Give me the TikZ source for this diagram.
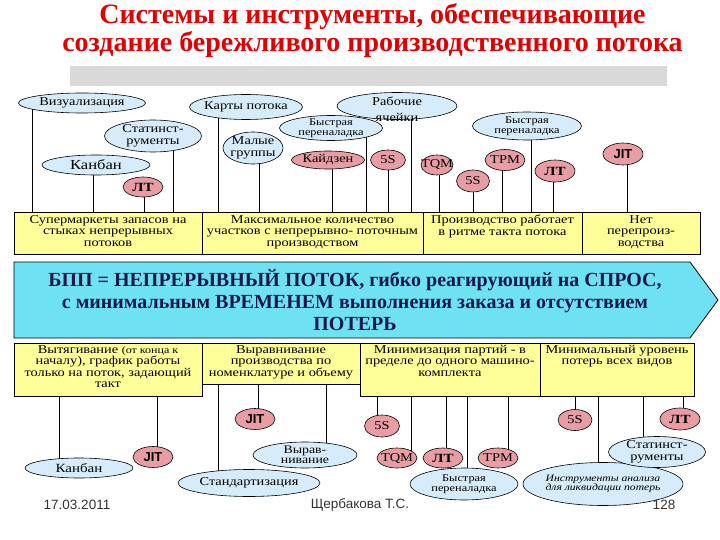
\documentclass[tikz,border=0pt]{standalone}
\usepackage{fontspec}
\setmainfont{Liberation Serif}[FakeStretch=1.2]
\newfontfamily\ttlfont{Liberation Serif}
\newfontfamily\arialf{Liberation Sans}
\usetikzlibrary{shapes.geometric}
\definecolor{ttlred}{RGB}{225,0,0}
\definecolor{ellblue}{RGB}{214,236,250}
\definecolor{ellred}{RGB}{232,156,164}
\definecolor{boxyel}{RGB}{255,255,153}
\definecolor{bandcyan}{RGB}{110,226,242}
\definecolor{bandtxt}{RGB}{25,25,75}
\definecolor{bargray}{RGB}{217,217,217}
\pgfdeclarelayer{bg}
\pgfsetlayers{bg,main}
\tikzset{
 ellb/.style 2 args={ellipse,draw=black,line width=0.6pt,fill=ellblue,minimum width=#1,minimum height=#2,inner sep=0pt},
 ellr/.style 2 args={ellipse,draw=black,line width=0.6pt,fill=ellred,minimum width=#1,minimum height=#2,inner sep=0pt},
 etxt/.style={inner sep=0pt,align=center,font=\fontsize{12}{11.5}\selectfont},
 stxt/.style={inner sep=0pt,align=center,font=\fontsize{10.3}{10}\selectfont},
 jtxt/.style={inner sep=0pt,font=\arialf\bfseries\fontsize{13}{13}\selectfont},
 ltxt/.style={inner sep=0pt,font=\bfseries\fontsize{12.5}{12.5}\selectfont},
 ybox/.style 2 args={rectangle,draw=black,line width=0.8pt,fill=boxyel,minimum width=#1,minimum height=#2,inner sep=0pt,outer sep=0pt,anchor=north west},
 btxt/.style={inner sep=0pt,align=center,anchor=north,font=\fontsize{12}{11.5}\selectfont},
 conn/.style={draw=black,line width=0.7pt},
 foot/.style={inner sep=0pt,font=\arialf\fontsize{13.5}{13.5}\selectfont,text=black!80},
}
\newcommand\cnx[3]{\coordinate (tmpx) at (#3,0); \draw[conn] (#1.center -| tmpx) -- (#2 -| tmpx);}
\begin{document}
\begin{tikzpicture}[x=1pt,y=-1pt]
\useasboundingbox (0,0) rectangle (720,540);
% title
\node[inner sep=0pt,align=center,font=\ttlfont\bfseries\fontsize{28}{25.5}\selectfont,text=ttlred] (title) at (372.5,30.5) {Системы и инструменты, обеспечивающие\\создание бережливого производственного потока};
\node[fill=bargray,minimum width=597,minimum height=20,inner sep=0pt,anchor=north west] (bar) at (70,66) {};
% top boxes
\node[ybox={188}{42}] (t1) at (14,212) {};
\node[ybox={221}{42}] (t2) at (202,212) {};
\node[ybox={159}{42}] (t3) at (423,212) {};
\node[ybox={118}{42}] (t4) at (582,212) {};
\node[btxt] (t1t) at ([yshift=-3]t1.north) {Супермаркеты запасов на\\стыках непрерывных\\потоков};
\node[btxt] (t2t) at ([yshift=-3]t2.north) {Максимальное количество\\участков с непрерывно- поточным\\производством};
\node[btxt] (t3t) at ([yshift=-3]t3.north) {Производство работает\\в ритме такта потока};
\node[btxt] (t4t) at ([yshift=-3]t4.north) {Нет\\перепроиз-\\водства};
% band
\draw[fill=bandcyan,line width=0.8pt] (14,262) -- (690,262) -- (718,300) -- (690,338) -- (14,338) -- cycle;
\node[inner sep=0pt,align=center,text=bandtxt,font=\ttlfont\bfseries\fontsize{20}{22}\selectfont] (band) at (355,300) {БПП = НЕПРЕРЫВНЫЙ ПОТОК, гибко реагирующий на СПРОС,\\с минимальным ВРЕМЕНЕМ выполнения заказа и отсутствием\\ПОТЕРЬ};
% lower boxes
\node[ybox={188}{53}] (b1) at (14,343) {};
\node[ybox={158}{41}] (b2) at (202,343) {};
\node[ybox={180}{53}] (b3) at (360,343) {};
\node[ybox={154}{53}] (b4) at (540,343) {};
\node[btxt] (b1t) at ([yshift=-2]b1.north) {Вытягивание {\fontsize{10}{10}\selectfont(от конца к}\\началу), график работы\\только на поток, задающий\\такт};
\node[btxt] (b2t) at ([yshift=-2]b2.north) {Выравнивание\\производства по\\номенклатуре и объему};
\node[btxt] (b3t) at ([yshift=-2]b3.north) {Минимизация партий - в\\пределе до одного машино-\\комплекта};
\node[btxt] (b4t) at ([yshift=-2]b4.north) {Минимальный уровень\\потерь всех видов};
% top ellipses
\node[ellb={127}{20}] (viz) at (82,103) {};
\node[etxt] (vizt) at (viz) {Визуализация};
\node[ellb={97}{32}] (stat1) at (153,136) {};
\node[etxt] (stat1t) at (stat1) {Статинст-\\рументы};
\node[ellb={108}{20}] (kan1) at (96,165) {};
\node[etxt,font=\fontsize{13.8}{13.8}\selectfont] (kan1t) at (kan1) {Канбан};
\node[ellr={40}{20}] (jit1) at (143,187) {};
\node[ltxt] (jit1t) at (jit1) {ЛТ};
\node[ellb={113}{25}] (karty) at (246,107) {};
\node[etxt] (kartyt) at (karty) {Карты потока};
\node[ellb={120}{27}] (rab) at (397,106) {};
\node[etxt,font=\fontsize{12}{16}\selectfont] (rabt) at (397,109) {Рабочие\\ячейки};
\node[ellb={103}{25}] (bp1) at (331,128) {};
\node[stxt] (bp1t) at (bp1) {Быстрая\\переналадка};
\node[ellb={60}{32}] (mal) at (253,148) {};
\node[etxt] (malt) at (mal) {Малые\\группы};
\node[ellr={73}{18}] (kai) at (328,160) {};
\node[etxt] (kait) at (kai) {Кайдзен};
\node[ellr={35}{20}] (s5a) at (388,160) {};
\node[etxt] (s5at) at (s5a) {5S};
\node[ellr={32}{20}] (tqm1) at (437,165) {};
\node[etxt] (tqm1t) at (tqm1) {TQM};
\node[ellr={33}{22}] (s5b) at (473,181) {};
\node[etxt] (s5bt) at (s5b) {5S};
\node[ellr={40}{21}] (tpm1) at (505,160) {};
\node[etxt] (tpm1t) at (tpm1) {TPM};
\node[ellb={109}{28}] (bp2) at (527,126) {};
\node[stxt] (bp2t) at (bp2) {Быстрая\\переналадка};
\node[ellr={40}{22}] (jit2) at (555,171) {};
\node[ltxt] (jit2t) at (jit2) {ЛТ};
\node[ellr={40}{22}] (jit3) at (623,154) {};
\node[jtxt] (jit3t) at (jit3) {JIT};
% bottom ellipses
\node[ellb={108}{20}] (kan2) at (79,468) {};
\node[etxt,font=\fontsize{12.5}{12.5}\selectfont] (kan2t) at (kan2) {Канбан};
\node[ellr={40}{21}] (jit4) at (153,457) {};
\node[jtxt] (jit4t) at (jit4) {JIT};
\node[ellb={142}{27}] (stand) at (249,483) {};
\node[etxt] (standt) at (stand) {Стандартизация};
\node[ellr={40}{21}] (jit5) at (255,419) {};
\node[jtxt] (jit5t) at (jit5) {JIT};
\node[ellb={104}{26}] (vyr) at (305,455) {};
\node[etxt,font=\fontsize{11.5}{10.5}\selectfont] (vyrt) at (vyr) {Вырав-\\нивание};
\node[ellr={35}{22}] (s5c) at (382,426) {};
\node[etxt] (s5ct) at (s5c) {5S};
\node[ellr={40}{20}] (tqm2) at (397,458) {};
\node[etxt] (tqm2t) at (tqm2) {TQM};
\node[ellr={40}{20}] (jit6) at (443,458) {};
\node[ltxt] (jit6t) at (jit6) {ЛТ};
\node[ellr={40}{20}] (tpm2) at (498,458) {};
\node[etxt] (tpm2t) at (tpm2) {TPM};
\node[ellb={108}{32}] (bp3) at (464,484) {};
\node[stxt] (bp3t) at (bp3) {Быстрая\\переналадка};
\node[ellr={34}{21}] (s5d) at (575,420) {};
\node[etxt] (s5dt) at (s5d) {5S};
\node[ellb={160}{43}] (instr) at (603,484) {};
\node[stxt,font=\itshape\fontsize{9.7}{9.7}\selectfont] (instrt) at (instr) {Инструменты анализа\\для ликвидации потерь};
\node[ellb={97}{31}] (stat2) at (657,452) {};
\node[etxt] (stat2t) at (stat2) {Статинст-\\рументы};
\node[ellr={40}{22}] (jit7) at (680,419) {};
\node[ltxt] (jit7t) at (jit7) {ЛТ};
% footer
\node[foot] (date) at (77,505) {17.03.2011};
\node[foot] (author) at (360,505) {Щербакова Т.С.};
\node[foot] (page) at (664,505) {128};
% connectors
\begin{pgfonlayer}{bg}
\cnx{viz}{t1.north}{32}
\cnx{stat1}{t1.north}{173}
\cnx{kan1}{t1.north}{93}
\cnx{jit1}{t1.north}{144}
\cnx{karty}{t2.north}{218}
\cnx{mal}{t2.north}{259}
\cnx{bp1}{t2.north}{366}
\cnx{rab}{t2.north}{411}
\cnx{kai}{t2.north}{332}
\cnx{s5a}{t2.north}{388}
\cnx{tqm1}{t3.north}{439}
\cnx{s5b}{t3.north}{473}
\cnx{tpm1}{t3.north}{502}
\cnx{bp2}{t3.north}{531}
\cnx{jit2}{t3.north}{553}
\cnx{jit3}{t4.north}{627}
\cnx{kan2}{b1.south}{59}
\cnx{jit4}{b1.south}{157}
\cnx{stand}{b2.south}{218}
\cnx{jit5}{b2.south}{258}
\cnx{vyr}{b2.south}{326}
\cnx{s5c}{b3.south}{377}
\cnx{tqm2}{b3.south}{411}
\cnx{jit6}{b3.south}{446}
\cnx{bp3}{b3.south}{467}
\cnx{tpm2}{b3.south}{508}
\cnx{s5d}{b4.south}{575}
\cnx{instr}{b4.south}{598}
\cnx{stat2}{b4.south}{643}
\cnx{jit7}{b4.south}{683}
\end{pgfonlayer}
\end{tikzpicture}
\end{document}
